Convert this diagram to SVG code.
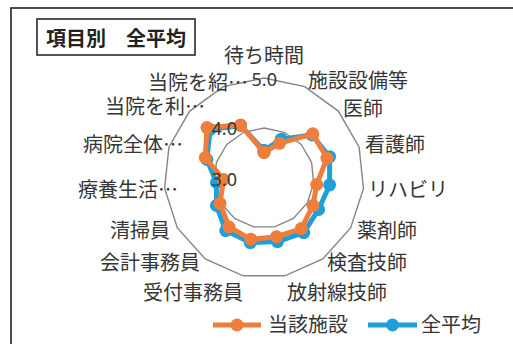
<svg xmlns="http://www.w3.org/2000/svg" width="513" height="344" viewBox="0 0 513 344">
<style>
.t{font-family:"Noto Sans CJK JP","Noto Sans",sans-serif;font-size:20px;fill:#363636}
.n{font-family:"Noto Sans","Noto Sans CJK JP",sans-serif;font-size:18px;fill:#363636}
.grid{fill:none;stroke:#858585;stroke-width:1.4}
.so{fill:none;stroke:#EF7D3C;stroke-width:5;stroke-linejoin:round}
.sb{fill:none;stroke:#1E9FDA;stroke-width:5;stroke-linejoin:round}
.mo{fill:#EF7D3C}
.mb{fill:#1E9FDA}
</style>
<defs>
<marker id="mO" viewBox="-7 -7 14 14" markerWidth="14" markerHeight="14" markerUnits="userSpaceOnUse"><circle r="6.5" fill="#EF7D3C"/></marker>
<marker id="mB" viewBox="-7 -7 14 14" markerWidth="14" markerHeight="14" markerUnits="userSpaceOnUse"><circle r="6.5" fill="#1E9FDA"/></marker>
</defs>
<rect x="0" y="0" width="513" height="344" fill="#fff"/>
<rect x="11" y="8" width="520" height="360" fill="none" stroke="#3a3a3a" stroke-width="1.8"/>
<g id="title">
<rect x="37" y="19" width="158" height="36" fill="#fff" stroke="#2a2a2a" stroke-width="1.6"/>
<text class="t" x="116" y="46" text-anchor="middle" style="font-weight:bold;fill:#222">項目別　全平均</text>
</g>
<g id="grid">
<polygon class="grid" points="264,128 284.3,132.3 301.2,144.5 311.6,162.5 313.7,183.2 307.3,203 293.4,218.5 274.4,226.9 253.6,226.9 234.6,218.5 220.7,203 214.3,183.2 216.4,162.5 226.8,144.5 243.7,132.3"/>
<polygon class="grid" points="264,78 304.7,86.6 338.3,111.1 359.1,147.1 363.5,188.5 350.6,228 322.8,258.9 284.8,275.8 243.2,275.8 205.2,258.9 177.4,228 164.6,188.5 168.9,147.1 189.7,111.1 223.3,86.6"/>
</g>
<g id="connectors">
<polygon id="series-avg" class="sb" marker-start="url(#mB)" marker-mid="url(#mB)" marker-end="url(#mB)" points="264,150.5 281.3,139.2 312,135 329.6,156.7 329.6,184.9 318.6,209.5 303.7,232.6 277.5,241.6 250.3,242.6 225.8,230.6 216.4,205.5 216.5,182.5 206.9,159.5 210.1,129.5 240.6,125.5"/>
<polygon id="series-facility" class="so" marker-start="url(#mO)" marker-mid="url(#mO)" marker-end="url(#mO)" points="264,152.5 279.5,143.3 312.8,133.8 327,158.2 316.7,184.5 313,205.5 301.3,228.6 276.6,236.7 250.8,239.2 229,227 220,203.4 223.5,179.5 205.3,157.5 207,127.6 240.6,125"/>
</g>
<g id="axis-values">
<text class="n" x="277" y="86" text-anchor="end">5.0</text>
<text class="n" x="237" y="135" text-anchor="end">4.0</text>
<text class="n" x="237" y="186" text-anchor="end">3.0</text>
</g>
<g id="labels">
<text class="t" x="264" y="63" text-anchor="middle">待ち時間</text>
<text class="t" x="308" y="88">施設設備等</text>
<text class="t" x="343" y="116">医師</text>
<text class="t" x="365" y="152">看護師</text>
<text class="t" x="368" y="197">リハビリ</text>
<text class="t" x="357" y="238">薬剤師</text>
<text class="t" x="327" y="270">検査技師</text>
<text class="t" x="287" y="300">放射線技師</text>
<text class="t" x="243" y="300" text-anchor="end">受付事務員</text>
<text class="t" x="200" y="270" text-anchor="end">会計事務員</text>
<text class="t" x="170" y="238" text-anchor="end">清掃員</text>
<text class="t" x="178" y="197" text-anchor="end">療養生活…</text>
<text class="t" x="183" y="152" text-anchor="end">病院全体…</text>
<text class="t" x="205" y="114" text-anchor="end">当院を利…</text>
<text class="t" x="248" y="90" text-anchor="end">当院を紹…</text>
</g>
<g id="legend">
<line x1="213" y1="325" x2="261" y2="325" class="so"/>
<circle cx="237" cy="325" r="6.5" class="mo"/>
<text class="t" x="268" y="332">当該施設</text>
<line x1="368" y1="325" x2="417" y2="325" class="sb"/>
<circle cx="392.5" cy="325" r="6.5" class="mb"/>
<text class="t" x="421" y="332">全平均</text>
</g>
</svg>
